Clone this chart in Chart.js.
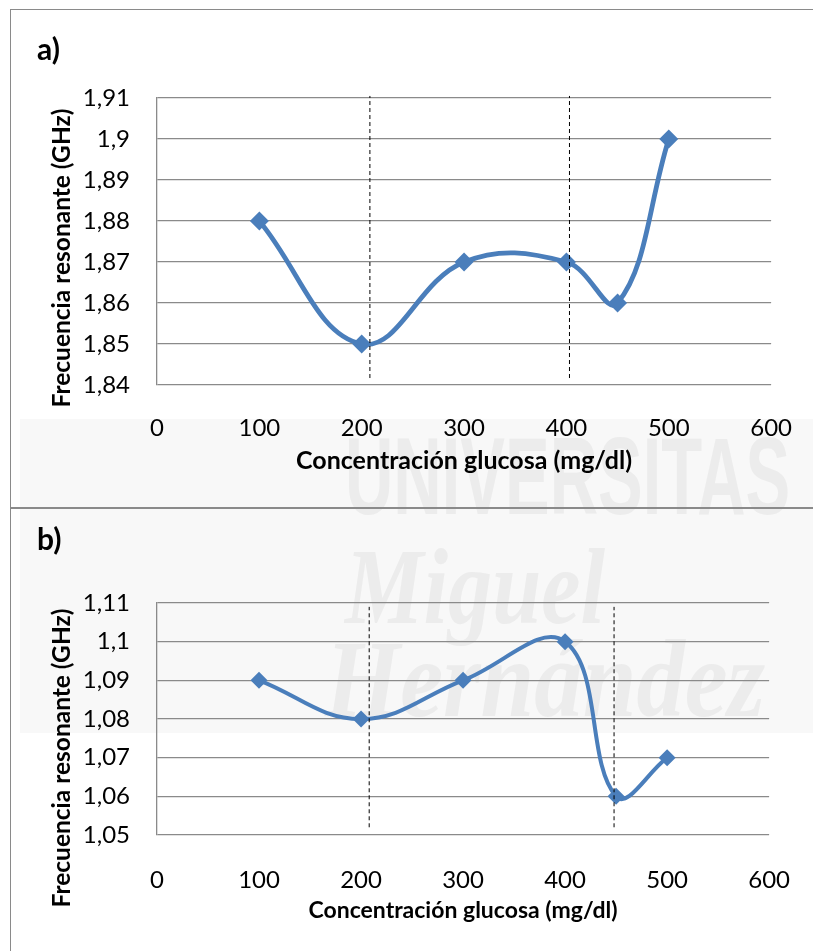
<!DOCTYPE html>
<html>
<head>
<meta charset="utf-8">
<script src="https://cdn.jsdelivr.net/npm/chart.js@4.4.0/dist/chart.umd.min.js"></script>
<style>
    body { margin: 0; background: #fff; width: 813px; height: 951px; position: relative; overflow: hidden; font-family: Lato, sans-serif; }
    .frame { position: absolute; background: #8a8a8a; z-index: 3; }
    canvas { position: absolute; left: 0; z-index: 2; }
    #wm { position: absolute; left: 20px; top: 419px; width: 793px; height: 314px; background: #f8f8f8; z-index: 1; overflow: hidden; }
    .wm-text { position: absolute; color: #ececec; white-space: nowrap; transform-origin: 0 0; line-height: 1; }
</style>
</head>
<body>
<div id="wm">
    <div class="wm-text" data-w="445" style="left:325px; top:-7px; font: bold 110px 'Liberation Sans Narrow', 'Liberation Sans', sans-serif;">UNIVERSITAS</div>
    <div class="wm-text" data-w="260" style="left:325px; top:105px; font: italic bold 109px 'Liberation Serif', serif;">Miguel</div>
    <div class="wm-text" data-w="440" style="left:305px; top:197px; font: italic bold 110px 'Liberation Serif', serif;">Hernández</div>
</div>
<div class="frame" style="left:10px; top:9px; width:803px; height:1px;"></div>
<div class="frame" style="left:10px; top:9px; width:1px; height:942px;"></div>
<div class="frame" style="left:10px; top:507px; width:803px; height:2px;"></div>
<canvas id="chartA" width="813" height="508" style="top:0"></canvas>
<canvas id="chartB" width="813" height="443" style="top:508px"></canvas>
<script>
// Data
const concentrations = [100, 200, 300, 400, 450, 500];
const freqA = [1.88, 1.85, 1.87, 1.87, 1.86, 1.90];
const freqB = [1.09, 1.08, 1.09, 1.10, 1.06, 1.07];

// dashed vertical reference lines (x position, y extent)
const dashXA = [208, 403];
const dashYA = [1.8417, 1.9105];
const dashXB = [208, 448];
const dashYB = [1.052, 1.109];

const xRange = [0, 600];
const yRangeA = [1.84, 1.91];
const yRangeB = [1.05, 1.11];

const xTitle = 'Concentración glucosa (mg/dl)';
const yTitle = 'Frecuencia resonante (GHz)';

const blue = '#4a7ebb';
const gridGray = '#8a8a8a';

// squeeze watermark words to their width in the picture
document.querySelectorAll('.wm-text').forEach(el => {
    el.style.transform = `scaleX(${el.dataset.w / el.offsetWidth})`;
});

// panel letter + rotated y title
const panelText = {
    id: 'panelText',
    afterDraw(chart, args, opts) {
        const ctx = chart.ctx;
        ctx.save();
        ctx.fillStyle = '#000';
        ctx.textBaseline = 'middle';
        ctx.font = 'bold 30px Lato';
        ctx.fillText(opts.letter, opts.letterX, opts.letterY);
        ctx.translate(opts.titleX, opts.titleY);
        ctx.rotate(-Math.PI / 2);
        ctx.textAlign = 'center';
        ctx.font = 'bold 24.5px Lato';
        ctx.fillText(yTitle, 0, 0);
        ctx.restore();
    }
};

function dashSet(xs, ys) {
    return xs.map(x => ({
        data: [{ x: x, y: ys[0] }, { x: x, y: ys[1] }],
        borderColor: '#000',
        borderWidth: 1,
        borderDash: [4, 3],
        pointRadius: 0,
        tension: 0,
        clip: false,
        order: 0
    }));
}

function makeChart(id, p) {
    const ctx = document.getElementById(id).getContext('2d');
    return new Chart(ctx, {
        type: 'line',
        data: {
            datasets: [
                ...dashSet(p.dashX, p.dashY),
                {
                    data: concentrations.map((c, i) => ({ x: c, y: p.values[i] })),
                    borderColor: blue,
                    backgroundColor: blue,
                    borderWidth: p.lineWidth,
                    tension: 0.4,
                    pointStyle: 'rectRot',
                    pointRadius: p.pointRadius,
                    pointBorderWidth: 0,
                    pointBackgroundColor: blue,
                    clip: false,
                    order: 1
                }
            ]
        },
        options: {
            responsive: false,
            animation: false,
            layout: { padding: { top: p.top, right: 41, bottom: 0, left: 0 } },
            plugins: {
                legend: { display: false },
                tooltip: { enabled: false },
                panelText: p.text
            },
            scales: {
                x: {
                    type: 'linear',
                    min: xRange[0],
                    max: xRange[1],
                    grid: { display: false },
                    border: { display: false },
                    ticks: {
                        stepSize: 100,
                        padding: p.xTickPad,
                        color: '#000',
                        font: { family: 'Lato', size: 24, lineHeight: 1.2 },
                        maxRotation: 0
                    },
                    title: {
                        display: true,
                        text: xTitle,
                        color: '#000',
                        font: { family: 'Lato', size: p.xTitleSize, weight: 'bold', lineHeight: 1.2 },
                        padding: { top: 0, bottom: p.xTitlePad }
                    },
                    afterFit: s => { s.height = p.xHeight; }
                },
                y: {
                    min: p.yRange[0],
                    max: p.yRange[1],
                    grid: { color: gridGray, lineWidth: 1.3, drawTicks: false },
                    border: { display: true, color: gridGray, width: 1.3 },
                    ticks: {
                        stepSize: 0.01,
                        padding: 27,
                        color: '#000',
                        font: { family: 'Lato', size: 24, lineHeight: 1.2 },
                        callback: v => String(Math.round(v * 100) / 100).replace('.', ',')
                    },
                    afterFit: s => { s.width = 157; }
                }
            }
        },
        plugins: [panelText]
    });
}

makeChart('chartA', {
    values: freqA, dashX: dashXA, dashY: dashYA, yRange: yRangeA,
    top: 98, xHeight: 123, xTickPad: 21, xTitleSize: 25, xTitlePad: 32,
    lineWidth: 4.8, pointRadius: 9.5,
    text: { letter: 'a)', letterX: 37, letterY: 50, titleX: 62, titleY: 258 }
});

makeChart('chartB', {
    values: freqB, dashX: dashXB, dashY: dashYB, yRange: yRangeB,
    top: 95, xHeight: 116, xTickPad: 23, xTitleSize: 23, xTitlePad: 27,
    lineWidth: 4, pointRadius: 8.5,
    text: { letter: 'b)', letterX: 37, letterY: 32, titleX: 62, titleY: 250 }
});
</script>
</body>
</html>
